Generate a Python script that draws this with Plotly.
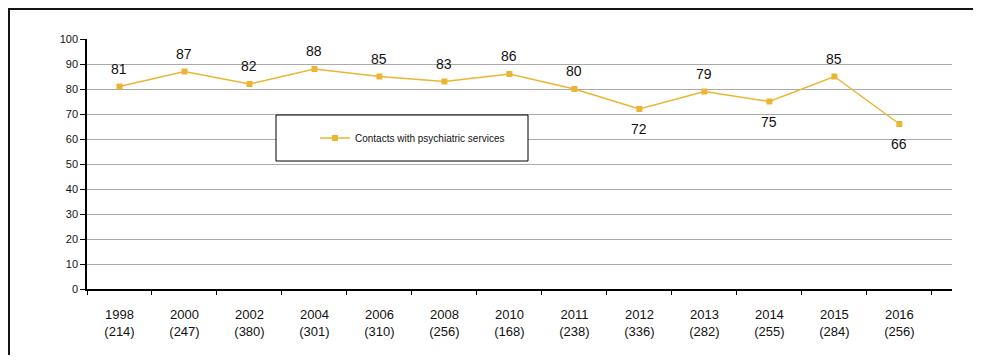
import plotly.graph_objects as go

# datos
anios = ["1998", "2000", "2002", "2004", "2006", "2008", "2010",
         "2011", "2012", "2013", "2014", "2015", "2016"]
n_casos = [214, 247, 380, 301, 310, 256, 168, 238, 336, 282, 255, 284, 256]
valores = [81, 87, 82, 88, 85, 83, 86, 80, 72, 79, 75, 85, 66]
etiqueta_abajo = [False, False, False, False, False, False, False,
                  False, True, False, True, False, True]
nombre_serie = "Contacts with psychiatric services"

AMARILLO = "#EBB532"
FUENTE = "Arial, Liberation Sans, sans-serif"
MARCO = "#141414"

# la página html deja 8px de margen: las medidas de la figura van en ese sistema
ANCHO, ALTO = 965, 347
IZQ, ARR, ABA, DER = 79, 31, 66, 21
ancho_plot = ANCHO - IZQ - DER
alto_plot = ALTO - ARR - ABA


def px_x(x):
    return (x - IZQ) / ancho_plot


def px_y(y):
    return (ALTO - ABA - y) / alto_plot


categorias = [f"{a}<br>({n})" for a, n in zip(anios, n_casos)]

fig = go.Figure()
fig.add_trace(go.Scatter(
    x=categorias, y=valores, mode="lines+markers", name=nombre_serie,
    line=dict(color=AMARILLO, width=1.5),
    marker=dict(symbol="square", size=6, color=AMARILLO),
))

# etiquetas de valor arriba/abajo de cada punto
for cat, v, abajo in zip(categorias, valores, etiqueta_abajo):
    fig.add_annotation(
        x=cat, y=v, text=str(v), showarrow=False,
        yshift=-20 if abajo else 18,
        font=dict(size=14, color="#111111", family=FUENTE),
    )

# marco exterior (línea superior e izquierda)
fig.add_shape(type="line", xref="paper", yref="paper",
              x0=px_x(0), x1=px_x(ANCHO), y0=px_y(1), y1=px_y(1),
              line=dict(color=MARCO, width=2))
fig.add_shape(type="line", xref="paper", yref="paper",
              x0=px_x(1), x1=px_x(1), y0=px_y(0), y1=px_y(ALTO),
              line=dict(color=MARCO, width=2))

# caja de la leyenda
fig.add_shape(type="rect", xref="paper", yref="paper",
              x0=px_x(268), x1=px_x(520), y0=px_y(153), y1=px_y(107),
              fillcolor="white", line=dict(color="black", width=1), layer="above")

fig.update_layout(
    width=ANCHO, height=ALTO,
    margin=dict(l=IZQ, r=DER, t=ARR, b=ABA),
    paper_bgcolor="white", plot_bgcolor="white",
    font=dict(family=FUENTE, color="#111111"),
    showlegend=True,
    legend=dict(
        x=px_x(307), y=px_y(130),
        xanchor="left", yanchor="middle",
        bgcolor="rgba(0,0,0,0)", borderwidth=0,
        font=dict(size=10, family=FUENTE, color="#111111"),
    ),
    xaxis=dict(
        type="category", range=[-0.5, 12.81],
        tickson="boundaries", ticks="outside", ticklen=4, tickcolor="black",
        showline=True, linecolor="black", linewidth=1.5,
        showgrid=False, ticklabelstandoff=13,
        tickfont=dict(size=13, family=FUENTE, color="#111111"),
    ),
    yaxis=dict(
        range=[0, 100], dtick=10,
        ticks="outside", ticklen=5, tickcolor="black",
        showline=True, linecolor="black", linewidth=1.5,
        showgrid=True, gridcolor="#AAAAAA", gridwidth=1,
        zeroline=False,
        tickfont=dict(size=11, family=FUENTE, color="#111111"),
    ),
)

fig.write_html("out.html")
